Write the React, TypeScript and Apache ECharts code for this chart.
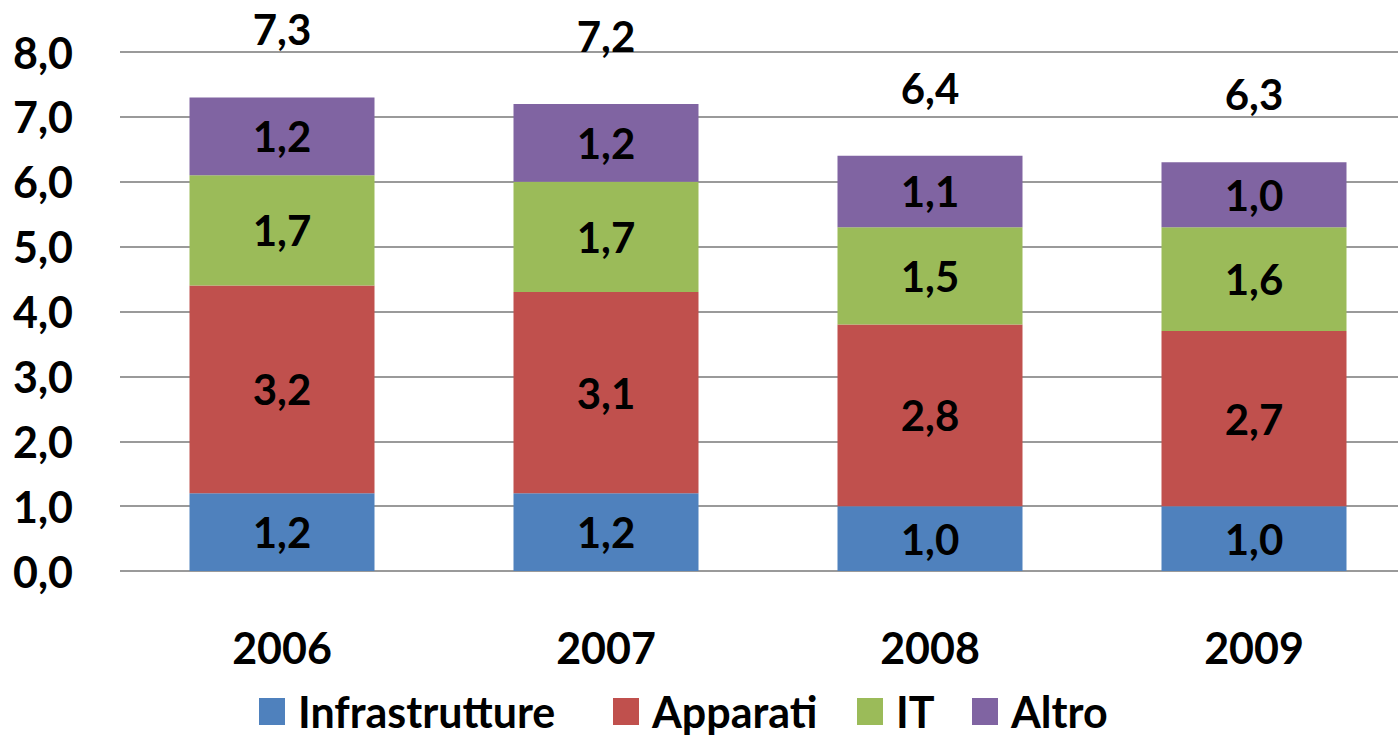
import React, { useEffect, useRef } from "react";
import * as echarts from "echarts";

const categories = ["2006", "2007", "2008", "2009"];
const infrastrutture = [1.2, 1.2, 1.0, 1.0];
const apparati = [3.2, 3.1, 2.8, 2.7];
const it = [1.7, 1.7, 1.5, 1.6];
const altro = [1.2, 1.2, 1.1, 1.0];
const totals = [7.3, 7.2, 6.4, 6.3];
const seriesNames = ["Infrastrutture", "Apparati", "IT", "Altro"];
const colors = ["#4F81BD", "#C0504D", "#9BBB59", "#8064A2"];
const legendLefts = [259, 613, 857, 972];

const FONT = "Lato";
const fmt = (v: number) => v.toFixed(1).replace(".", ",");

export default function App() {
  const ref = useRef<HTMLDivElement>(null);
  useEffect(() => {
    if (!ref.current) return;
    const chart = echarts.init(ref.current, undefined, { renderer: "svg" });
    const labelStyle = {
      show: true,
      position: "inside" as const,
      color: "#000",
      fontFamily: FONT,
      fontWeight: "bold" as const,
      fontSize: 42,
      formatter: (p: any) => fmt(p.value),
    };
    const data = [infrastrutture, apparati, it, altro];
    chart.setOption({
      animation: false,
      textStyle: { fontFamily: FONT },
      grid: { left: 120, right: 0, top: 52, bottom: 164, containLabel: false },
      legend: seriesNames.map((name, i) => ({
        data: [name],
        left: legendLefts[i],
        top: 690,
        padding: 0,
        itemWidth: 26,
        itemHeight: 27,
        icon: "rect",
        textStyle: {
          fontFamily: FONT,
          fontWeight: "bold",
          fontSize: 43,
          lineHeight: 40,
          color: "#000",
          padding: [0, 0, 0, 8],
        },
      })),
      xAxis: {
        type: "category",
        data: categories,
        axisTick: { show: false },
        axisLine: { show: false },
        axisLabel: {
          margin: 55,
          color: "#000",
          fontFamily: FONT,
          fontWeight: "bold",
          fontSize: 43,
          lineHeight: 43,
        },
      },
      yAxis: {
        type: "value",
        min: 0,
        max: 8,
        interval: 1,
        axisLine: { show: false },
        axisTick: { show: false },
        splitLine: { lineStyle: { color: "#9a9a9a", width: 2 } },
        axisLabel: {
          margin: 47,
          color: "#000",
          fontFamily: FONT,
          fontWeight: "bold",
          fontSize: 43,
          formatter: (v: number) => fmt(v),
        },
      },
      series: [
        ...seriesNames.map((name, i) => ({
          name,
          type: "bar",
          stack: "total",
          barWidth: 185,
          data: data[i],
          itemStyle: { color: colors[i] },
          label: labelStyle,
        })),
        {
          name: "Totale",
          type: "scatter",
          data: totals,
          symbolSize: 0,
          silent: true,
          itemStyle: { opacity: 1 },
          label: {
            show: true,
            position: "inside",
            offset: [0, -68],
            color: "#000",
            fontFamily: FONT,
            fontWeight: "bold",
            fontSize: 42,
            formatter: (p: any) => fmt(p.value),
          },
        },
      ],
    });
    return () => chart.dispose();
  }, []);
  return (
    <div
      style={{
        position: "absolute",
        left: 0,
        top: 0,
        width: 1398,
        height: 735,
        overflow: "hidden",
      }}
    >
      <div ref={ref} style={{ width: 1416, height: 735 }} />
    </div>
  );
}
